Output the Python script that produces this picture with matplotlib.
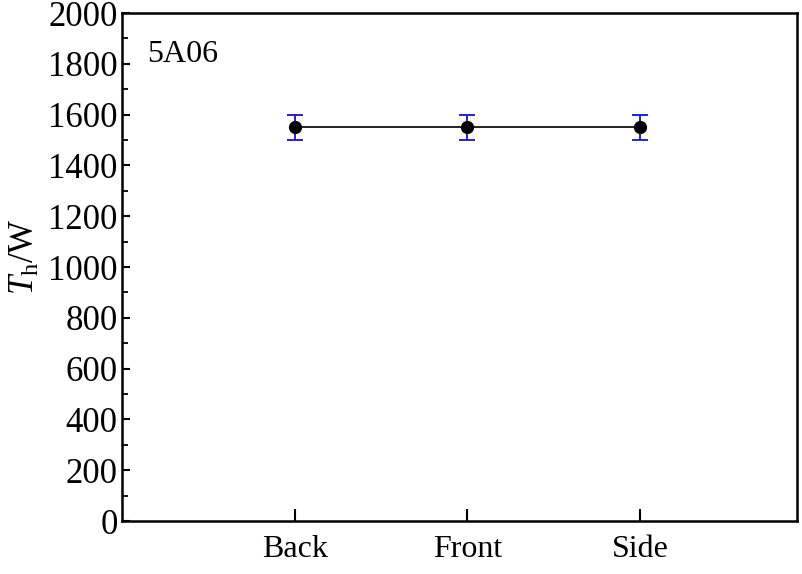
import matplotlib
matplotlib.use("Agg")
import matplotlib.pyplot as plt
from matplotlib.ticker import MultipleLocator

categories = ["Back", "Front", "Side"]
values = [1550, 1550, 1550]
errors = [50, 50, 50]
yticks = [0, 200, 400, 600, 800, 1000, 1200, 1400, 1600, 1800, 2000]

plt.rcParams['font.family'] = ['Liberation Serif', 'DejaVu Serif']
plt.rcParams['mathtext.fontset'] = 'custom'
plt.rcParams['mathtext.rm'] = 'Liberation Serif'
plt.rcParams['mathtext.it'] = 'Liberation Serif:italic'

fig = plt.figure(figsize=(8.03, 5.74), dpi=100)
ax = fig.add_axes([122/803, 53/574, 675/803, 508/574])

x = list(range(1, len(categories) + 1))
ax.plot(x, values, color='black', lw=1.2, zorder=2)
ax.errorbar(x, values, yerr=errors, fmt='none', ecolor='#1010e0', elinewidth=1.3,
            capsize=5.5, capthick=1.3, zorder=3)
ax.plot(x, values, 'o', color='black', markersize=8.5, zorder=4)

ax.set_xlim(0, 3.91)
ax.set_ylim(0, 2000)
ax.set_xticks(x)
ax.set_xticklabels(categories)
ax.set_yticks(yticks)
ax.yaxis.set_minor_locator(MultipleLocator(100))

for s in ax.spines.values():
    s.set_linewidth(1.8)

ax.tick_params(axis='y', which='major', direction='in', length=6, width=1.5,
               labelsize=25, pad=3)
ax.tick_params(axis='y', which='minor', direction='in', length=4, width=1.3)
ax.tick_params(axis='x', which='major', direction='in', length=9, width=1.5,
               labelsize=23, pad=10)

ax.set_ylabel(r'$T_{\mathrm{h}}$/W', fontsize=25)
ax.yaxis.set_label_coords(-0.118, 0.52)
ax.text(0.037, 0.904, '5A06', transform=ax.transAxes, fontsize=23,
        va='baseline', ha='left')

fig.savefig('out.png', dpi=100)
